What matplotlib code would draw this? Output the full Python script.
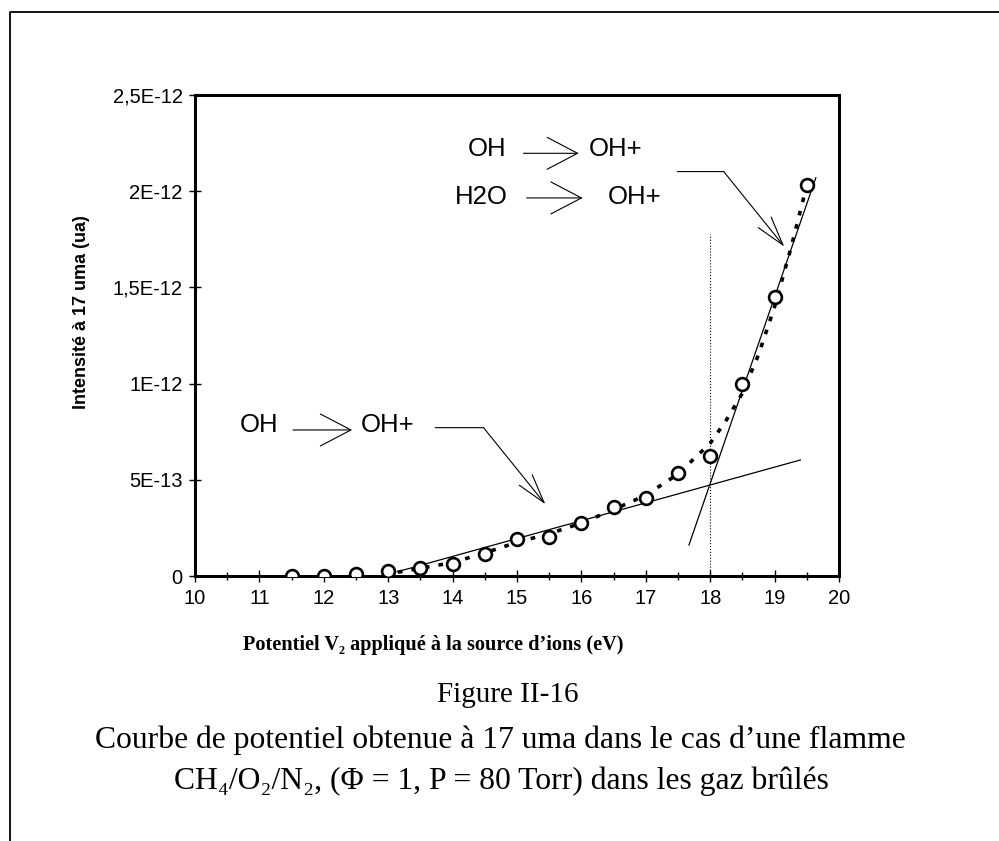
import matplotlib
matplotlib.use("Agg")
import matplotlib.pyplot as plt
from matplotlib.lines import Line2D
from matplotlib.ticker import FixedLocator, FixedFormatter, MultipleLocator

# measured points (V2 in eV, intensity at 17 uma)
v2 = [11.5, 12, 12.5, 13, 13.5, 14, 14.5, 15, 15.5, 16, 16.5, 17, 17.5, 18, 18.5, 19, 19.5]
intensity = [0, 0, 0.09e-13, 0.26e-13, 0.43e-13, 0.61e-13, 1.13e-13, 1.91e-13, 2.04e-13,
             2.74e-13, 3.6e-13, 4.04e-13, 5.37e-13, 6.24e-13, 1.0e-12, 1.45e-12, 2.03e-12]

# dotted trend curve
trend_x = [13.15, 13.5, 14, 14.5, 15, 15.5, 16, 16.5, 17, 17.5, 18, 18.25, 18.5, 18.75, 19, 19.25, 19.5]
trend_y = [0.2e-13, 0.4e-13, 0.7e-13, 1.2e-13, 1.75e-13, 2.2e-13, 2.75e-13, 3.45e-13, 4.2e-13,
           5.3e-13, 6.9e-13, 8.1e-13, 9.5e-13, 11.5e-13, 14.0e-13, 17.0e-13, 20.3e-13]

# the two straight tangents (end points)
low_x = [13.14, 19.4]
low_y = [0.22e-13, 6.03e-13]
high_x = [17.67, 19.64]
high_y = [1.61e-13, 2.07e-12]

# threshold marker
threshold = 18
threshold_top = 1.78e-12

yticks = [0, 5e-13, 1e-12, 1.5e-12, 2e-12, 2.5e-12]
ytick_labels = ["0", "5E-13", "1E-12", "1,5E-12", "2E-12", "2,5E-12"]

fig = plt.figure(figsize=(9.99, 8.41), dpi=100)
ax = fig.add_axes([195 / 999, 1 - 576 / 841, 644 / 999, 481 / 841])

ax.plot(trend_x, trend_y, color="black", lw=2.6, linestyle=(0, (1.3, 2.5)), zorder=2)
ax.plot(low_x, low_y, color="black", lw=0.9, zorder=3)
ax.plot(high_x, high_y, color="black", lw=0.9, zorder=3)
ax.plot([threshold, threshold], [0, threshold_top], color="black", lw=0.8, linestyle=":", zorder=1)
ax.plot(v2, intensity, linestyle="none", marker="o", markersize=9.2, mfc="white",
        mec="black", mew=1.9, zorder=4)

ax.set_xlim(10, 20)
ax.set_ylim(0, 2.5e-12)
ax.xaxis.set_major_locator(MultipleLocator(1))
ax.xaxis.set_minor_locator(MultipleLocator(0.5))
ax.yaxis.set_major_locator(FixedLocator(yticks))
ax.yaxis.set_major_formatter(FixedFormatter(ytick_labels))

for lab in ax.get_xticklabels() + ax.get_yticklabels():
    lab.set_fontfamily("Liberation Sans")
    lab.set_fontsize(14.5)
ax.tick_params(axis="both", which="major", direction="inout", length=8, width=1.0, pad=5)
ax.tick_params(axis="x", which="minor", direction="inout", length=6, width=1.0)
for sp in ax.spines.values():
    sp.set_linewidth(2.2)

# annotations
ann_font = {"family": "Liberation Sans", "size": 18.5}
chevron = dict(arrowstyle="->, head_length=22, head_width=11.5", lw=0.8, color="black",
               shrinkA=0, shrinkB=0, mutation_scale=1)
pointer = dict(arrowstyle="->, head_length=21, head_width=6", lw=0.8, color="black",
               shrinkA=0, shrinkB=0, mutation_scale=1)
plain = dict(arrowstyle="-", lw=0.8, color="black", shrinkA=0, shrinkB=0)

# upper group
ax.text(14.23, 2.217e-12, "OH", ha="left", va="center", **ann_font)
ax.annotate("", xy=(15.96, 2.197e-12), xytext=(15.10, 2.197e-12), arrowprops=chevron)
ax.text(16.11, 2.217e-12, "OH+", ha="left", va="center", **ann_font)
ax.text(14.04, 1.972e-12, "H2O", ha="left", va="center", **ann_font)
ax.annotate("", xy=(16.02, 1.965e-12), xytext=(15.15, 1.965e-12), arrowprops=chevron)
ax.text(16.41, 1.972e-12, "OH+", ha="left", va="center", **ann_font)
ax.annotate("", xy=(18.21, 2.102e-12), xytext=(17.49, 2.102e-12), arrowprops=plain)
ax.annotate("", xy=(19.15, 1.712e-12), xytext=(18.21, 2.102e-12), arrowprops=pointer)

# lower group
ax.text(10.70, 7.87e-13, "OH", ha="left", va="center", **ann_font)
ax.annotate("", xy=(12.44, 7.59e-13), xytext=(11.52, 7.59e-13), arrowprops=chevron)
ax.text(12.58, 7.87e-13, "OH+", ha="left", va="center", **ann_font)
ax.annotate("", xy=(14.48, 7.71e-13), xytext=(13.73, 7.71e-13), arrowprops=plain)
ax.annotate("", xy=(15.44, 3.73e-13), xytext=(14.48, 7.71e-13), arrowprops=pointer)

# axis titles
serif = ["Liberation Serif", "DejaVu Serif"]
fig.text(81 / 999, 1 - 312 / 841, "Intensité à 17 uma (ua)", rotation=90, ha="center",
         va="center", family="Liberation Sans", weight="bold", fontsize=13)
fig.text(433 / 999, 1 - 645 / 841, "Potentiel V\u2082 appliqué à la source d\u2019ions (eV)",
         ha="center", va="center", family=serif, weight="bold", fontsize=14.6)

# caption
fig.text(508 / 999, 1 - 695 / 841, "Figure II-16", ha="center", va="center",
         family=serif, fontsize=21)
fig.text(500 / 999, 1 - 740 / 841, "Courbe de potentiel obtenue à 17 uma dans le cas d\u2019une flamme",
         ha="center", va="center", family=serif, fontsize=22.8)
fig.text(501 / 999, 1 - 781 / 841, "CH\u2084/O\u2082/N\u2082, (\u03a6 = 1, P = 80 Torr) dans les gaz brûlés",
         ha="center", va="center", family=serif, fontsize=22.8)

# outer frame of the scanned page
fig.add_artist(Line2D([10 / 999, 10 / 999, 1.0], [0.0, 1 - 12 / 841, 1 - 12 / 841],
                      transform=fig.transFigure, color="black", lw=1.3))

fig.savefig("out.png", dpi=100)
